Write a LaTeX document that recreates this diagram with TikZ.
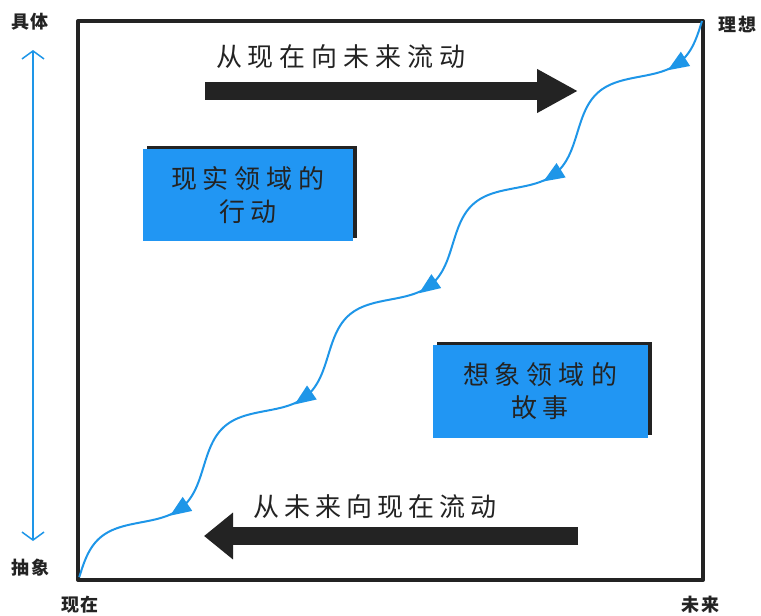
\documentclass[tikz,border=0pt]{standalone}
\usepackage{fontspec}
\newfontfamily\cjk{Noto Sans CJK SC}
\usetikzlibrary{arrows.meta,decorations.markings,shadows}
\definecolor{lineblue}{RGB}{30,150,232}
\definecolor{boxblue}{RGB}{33,150,243}
\definecolor{ink}{RGB}{35,35,35}
\newcommand{\ga}{\hspace{6pt}}
\newcommand{\gb}{\hspace{5pt}}
\newcommand{\gc}{\hspace{2pt}}
\newcommand{\wavetip}{\fill[lineblue] (10pt,0pt) -- (-11pt,8.5pt) -- (-11pt,-8.5pt) -- cycle;}
\begin{document}
\begin{tikzpicture}[x=1pt,y=-1pt,
  frame/.style={draw=ink, line width=4pt, line join=round},
  axlabel/.style={font=\cjk\bfseries\fontsize{18}{20}\selectfont, text=ink, inner sep=0pt},
  flowtext/.style={font=\cjk\fontsize{26}{30}\selectfont, text=ink, inner sep=0pt},
  bigarrow/.style={draw=ink, line width=18pt},
  realm/.style={fill=boxblue, inner sep=0pt, font=\cjk\fontsize{26}{33}\selectfont, align=center, text=ink,
    general shadow={fill=ink, shadow xshift=4pt, shadow yshift=3pt}},
  axisline/.style={draw=lineblue, line width=1.5pt, {Straight Barb[length=8pt,width=22pt]}-{Straight Barb[length=8pt,width=22pt]}},
  wave/.style={draw=lineblue, line width=2pt, postaction={decorate},
    decoration={markings,
      mark=at position 0.0574 with {\wavetip},
      mark=at position 0.2574 with {\wavetip},
      mark=at position 0.4574 with {\wavetip},
      mark=at position 0.6574 with {\wavetip},
      mark=at position 0.8574 with {\wavetip}}},
]
\useasboundingbox (0,0) rectangle (761,616);
\fill[white] (0,0) rectangle (761,616);

% frame
\coordinate (tl) at (78,21);
\coordinate (br) at (703,580);
\draw[frame] (tl) rectangle (br);

% axis labels
\node[axlabel] (concrete) at (30,22) {具\gc 体};
\node[axlabel] (ideal) at (737,24) {理\gc 想};
\node[axlabel] (abstract) at (31,568) {抽\gc 象};
\node[axlabel] (now) at (80,605) {现\gc 在};
\node[axlabel] (future) at (700,605) {未\gc 来};

% vertical axis arrow
\coordinate (axtop) at (33,50);
\coordinate (axbot) at (33,541);
\draw[axisline] (axtop) -- (axbot);

% top flow
\node[flowtext] (toptext) at (341,57) {从\ga 现\ga 在\ga 向\ga 未\ga 来\ga 流\ga 动};
\coordinate (ta) at (205,91);
\coordinate (tb) at (578,91);
\draw[bigarrow, -{Triangle[length=41pt,width=41pt]}] (ta) -- (tb);

% bottom flow
\node[flowtext] (bottext) at (375,507) {从\gb 未\gb 来\gb 向\gb 现\gb 在\gb 流\gb 动};
\coordinate (ba) at (578,536);
\coordinate (bb) at (204,536);
\draw[bigarrow, -{Triangle[length=29pt,width=45pt]}] (ba) -- (bb);

% boxes
\node[realm, minimum width=210pt, minimum height=92pt] (real) at (248,195) {现\ga 实\ga 领\ga 域\ga 的\\行\ga 动};
\node[realm, minimum width=215pt, minimum height=93pt] (imag) at (540,391) {想\ga 象\ga 领\ga 域\ga 的\\故\ga 事};

% wavy path from ideal corner to present corner
\coordinate (cornerideal) at (702,21);
\coordinate (cornernow) at (79,578);
\draw[wave] plot[domain=0:1, samples=300, variable=\t]
  ({702-623*\t+10.66*sin(1800*\t)}, {21+557*\t+11.93*sin(1800*\t)});
\end{tikzpicture}
\end{document}
